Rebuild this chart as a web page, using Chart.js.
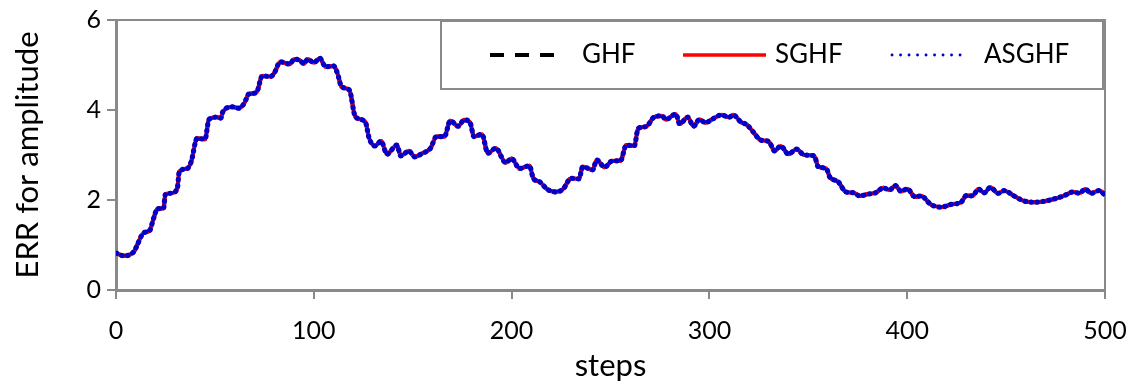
<!DOCTYPE html>
<html>
<head>
<meta charset="utf-8">
<title>ERR for amplitude</title>
<script src="https://cdn.jsdelivr.net/npm/chart.js@4.4.1/dist/chart.umd.min.js"></script>
<style>
  html, body { margin: 0; padding: 0; background: #fff; }
  #wrap { position: relative; width: 1137px; height: 387px; }
</style>
</head>
<body>
<div id="wrap"><canvas id="chart"></canvas></div>
<script>
// Filter step index (x) and the amplitude error at that step (y).
const steps = [
  0, 4, 9, 10, 14, 17, 19, 21, 24, 25, 28, 31, 32, 36, 38, 41, 45, 47, 51, 53,
  54, 59, 62, 65, 67, 71, 74, 78, 80, 83, 88, 90, 93, 95, 97, 100, 103, 106, 110, 112,
  114, 118, 121, 126, 128, 131, 134, 137, 142, 144, 148, 151, 155, 159, 162, 166, 169, 173, 176, 179,
  181, 185, 188, 192, 197, 200, 204, 209, 211, 214, 218, 222, 226, 230, 234, 236, 241, 243, 247, 251,
  255, 258, 262, 264, 268, 272, 276, 278, 283, 285, 289, 292, 295, 298, 302, 306, 310, 312, 316, 319,
  322, 326, 330, 333, 336, 340, 344, 348, 353, 355, 359, 361, 365, 369, 373, 376, 380, 384, 388, 391,
  394, 397, 400, 404, 407, 412, 417, 423, 427, 430, 433, 436, 439, 442, 446, 449, 454, 459, 464, 469,
  474, 479, 484, 487, 490, 493, 497, 500
];

// GHF, SGHF and ASGHF give the same error curve at this scale.
const errAmplitude = [
  0.82, 0.76, 0.85, 0.93, 1.27, 1.32, 1.59, 1.81, 1.81, 2.13, 2.15, 2.26, 2.63, 2.70, 2.85, 3.37, 3.35, 3.79, 3.84, 3.82,
  3.96, 4.07, 4.04, 4.16, 4.35, 4.39, 4.76, 4.74, 4.82, 5.07, 5.02, 5.13, 5.10, 5.03, 5.13, 5.05, 5.15, 4.96, 4.98, 4.81,
  4.52, 4.44, 3.85, 3.74, 3.37, 3.20, 3.31, 3.02, 3.22, 2.98, 3.09, 2.96, 3.04, 3.15, 3.41, 3.41, 3.76, 3.64, 3.78, 3.72,
  3.41, 3.46, 3.04, 3.15, 2.83, 2.92, 2.70, 2.76, 2.48, 2.41, 2.24, 2.18, 2.24, 2.48, 2.47, 2.74, 2.67, 2.89, 2.73, 2.87,
  2.87, 3.22, 3.20, 3.59, 3.63, 3.84, 3.87, 3.79, 3.91, 3.69, 3.84, 3.64, 3.79, 3.72, 3.81, 3.89, 3.84, 3.89, 3.73, 3.67,
  3.52, 3.33, 3.30, 3.09, 3.20, 3.02, 3.13, 3.00, 2.98, 2.74, 2.70, 2.50, 2.41, 2.18, 2.16, 2.09, 2.13, 2.16, 2.27, 2.22,
  2.32, 2.19, 2.25, 2.07, 2.09, 1.90, 1.84, 1.91, 1.94, 2.10, 2.09, 2.24, 2.16, 2.28, 2.15, 2.21, 2.09, 1.98, 1.95, 1.97,
  2.02, 2.09, 2.18, 2.15, 2.24, 2.15, 2.21, 2.11
];

const seriesNames = ['GHF', 'SGHF', 'ASGHF'];
const xTicks = [0, 100, 200, 300, 400, 500];
const yTicks = [0, 2, 4, 6];

const AXIS_GRAY = '#898989';
const FONT = 'Lato, "Open Sans", sans-serif';

const toPoints = vals => steps.map((s, i) => ({ x: s, y: vals[i] }));

// Box around the plot: left/bottom come from the axes, top/right are drawn here.
const frame = {
  id: 'frame',
  beforeDatasetsDraw(chart) {
    const { ctx, chartArea: a } = chart;
    ctx.save();
    ctx.strokeStyle = AXIS_GRAY;
    ctx.lineWidth = 2;
    ctx.beginPath();
    ctx.moveTo(a.left, a.top);
    ctx.lineTo(a.right, a.top);
    ctx.lineTo(a.right, a.bottom);
    ctx.stroke();
    ctx.restore();
  }
};

// Boxed legend in the upper right corner of the plot.
const boxLegend = {
  id: 'boxLegend',
  afterDraw(chart) {
    const { ctx } = chart;
    const box = { l: 441, t: 21, r: 1103, b: 89 };
    const cy = 55;
    const items = [
      { x0: 490, x1: 558, tx: 582, width: 4, dash: [14, 11], cap: 'butt' },
      { x0: 683, x1: 766, tx: 775, width: 3.5, dash: [], cap: 'butt' },
      { x0: 892, x1: 968, tx: 984, width: 2.8, dash: [0.1, 8.4], cap: 'round' }
    ];
    ctx.save();
    ctx.fillStyle = '#ffffff';
    ctx.fillRect(box.l, box.t, box.r - box.l, box.b - box.t);
    ctx.strokeStyle = AXIS_GRAY;
    ctx.lineWidth = 2;
    ctx.strokeRect(box.l, box.t, box.r - box.l, box.b - box.t);
    chart.data.datasets.forEach((ds, i) => {
      const it = items[i];
      ctx.beginPath();
      ctx.setLineDash(it.dash);
      ctx.lineCap = it.cap;
      ctx.lineWidth = it.width;
      ctx.strokeStyle = ds.borderColor;
      ctx.moveTo(it.x0, cy);
      ctx.lineTo(it.x1, cy);
      ctx.stroke();
      ctx.setLineDash([]);
      ctx.fillStyle = '#000';
      ctx.font = '26px ' + FONT;
      ctx.textBaseline = 'middle';
      ctx.textAlign = 'left';
      ctx.fillText(ds.label, it.tx, cy);
    });
    ctx.restore();
  }
};

new Chart(document.getElementById('chart'), {
  type: 'line',
  data: {
    datasets: [
      {
        label: seriesNames[0],
        data: toPoints(errAmplitude),
        borderColor: '#000000',
        borderWidth: 4,
        borderDash: [12, 8],
        order: 3
      },
      {
        label: seriesNames[1],
        data: toPoints(errAmplitude),
        borderColor: '#ff0000',
        borderWidth: 4.2,
        order: 2
      },
      {
        label: seriesNames[2],
        data: toPoints(errAmplitude),
        borderColor: '#0000cc',
        borderWidth: 5.2,
        borderDash: [0.6, 5.4],
        borderCapStyle: 'round',
        order: 1
      }
    ]
  },
  options: {
    responsive: true,
    maintainAspectRatio: false,
    animation: false,
    layout: { padding: { left: 0, right: 32, top: 20, bottom: 0 } },
    elements: {
      point: { radius: 0, hoverRadius: 0 },
      line: { cubicInterpolationMode: 'monotone', fill: false }
    },
    plugins: {
      legend: { display: false },
      tooltip: { enabled: false }
    },
    scales: {
      x: {
        type: 'linear',
        min: 0,
        max: 500,
        afterBuildTicks: s => { s.ticks = xTicks.map(v => ({ value: v })); },
        afterFit: s => { s.height = 97; s.paddingLeft = 0; s.paddingRight = 0; },
        border: { display: true, color: AXIS_GRAY, width: 3 },
        grid: { drawOnChartArea: false, drawTicks: true, tickLength: 9, color: AXIS_GRAY, lineWidth: 2 },
        ticks: { color: '#000', font: { family: FONT, size: 25 }, padding: 17, maxRotation: 0 },
        title: { display: true, text: 'steps', color: '#000', font: { family: FONT, size: 31 }, padding: { top: 0, bottom: 2 } }
      },
      y: {
        min: 0,
        max: 6,
        afterBuildTicks: s => { s.ticks = yTicks.map(v => ({ value: v })); },
        afterFit: s => { s.width = 116; s.paddingTop = 0; s.paddingBottom = 0; },
        border: { display: true, color: AXIS_GRAY, width: 3 },
        grid: { drawOnChartArea: false, drawTicks: true, tickLength: 9, color: AXIS_GRAY, lineWidth: 2 },
        ticks: { color: '#000', font: { family: FONT, size: 25 }, padding: 6 },
        title: { display: true, text: 'ERR for amplitude', color: '#000', font: { family: FONT, size: 31 }, padding: { top: 9, bottom: 0 } }
      }
    }
  },
  plugins: [frame, boxLegend]
});
</script>
</body>
</html>
